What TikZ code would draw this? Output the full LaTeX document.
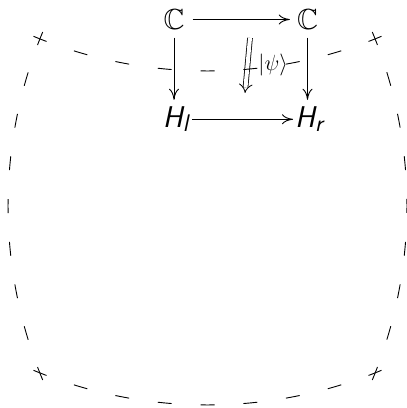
\documentclass[tikz,border=0pt]{standalone}
\usepackage{fix-cm}
\usepackage{amssymb}
\usetikzlibrary{arrows.meta}
\DeclareFontFamily{U}{msb}{}
\DeclareFontShape{U}{msb}{m}{n}{<-> msbm10}{}
\begin{document}
\begin{tikzpicture}[x=1pt,y=1pt,
  dsh/.style={line width=0.9pt, dash pattern=on 14pt off 28.89pt, dash phase=0pt},
  obj/.style={inner sep=0pt},
  bb/.style={obj, font=\fontsize{29}{32}\selectfont},
  hh/.style={obj, font=\fontsize{30}{33}\selectfont\sffamily\itshape},
  sub/.style={font=\fontsize{24}{26}\selectfont},
  arr/.style={line width=0.9pt, -{To[length=11pt,width=10pt]}},
  dbl/.style={double, double distance=4pt, line width=0.8pt, -{Implies[scale=1.5]}},
  lbl/.style={inner sep=0pt, font=\fontsize{22}{24}\selectfont},
]
\useasboundingbox (0,0) rectangle (407,408);
% objects
\node[bb] (C1) at (174,388.5) {$\mathbb{C}$};
\node[bb] (C2) at (307.5,388.5) {$\mathbb{C}$};
\node[hh] (Hl) at (175.5,288.7) {H\raisebox{-3.7pt}{\fontsize{24}{26}\selectfont l}};
\node[hh] (Hr) at (309,288.7) {H\raisebox{-3.7pt}{\fontsize{24}{26}\selectfont r}};
% arrows
\draw[arr, shorten <=8pt, shorten >=7pt] (C1) -- (C2);
\draw[arr, shorten <=8pt, shorten >=7pt] (C1.south) -- (C1.south |- Hl.north);
\draw[arr, shorten <=8pt, shorten >=7pt] (C2.south) -- (C2.south |- Hr.north);
\draw[arr, shorten <=4pt, shorten >=2pt] (Hl) -- (Hr);
% 2-cell
\coordinate (n1) at (250,370);
\coordinate (n2) at (245,315);
\draw[dbl] (n1) -- (n2) node[lbl, midway, right=10.5pt] {$|\psi\rangle$};
% dashed boundary
\draw[dsh] ([shift={(247.47:454)}]207.5,791) arc[start angle=247.47,end angle=292.53,radius=454];
\draw[dsh] ([shift={(247.47:454)}]207.5,457) arc[start angle=247.47,end angle=292.53,radius=454];
\draw[dsh] ([shift={(157.47:454)}]462,202) arc[start angle=157.47,end angle=202.53,radius=454];
\draw[dsh] ([shift={(-22.53:454)}]-47,202) arc[start angle=-22.53,end angle=22.53,radius=454];
\end{tikzpicture}
\end{document}
